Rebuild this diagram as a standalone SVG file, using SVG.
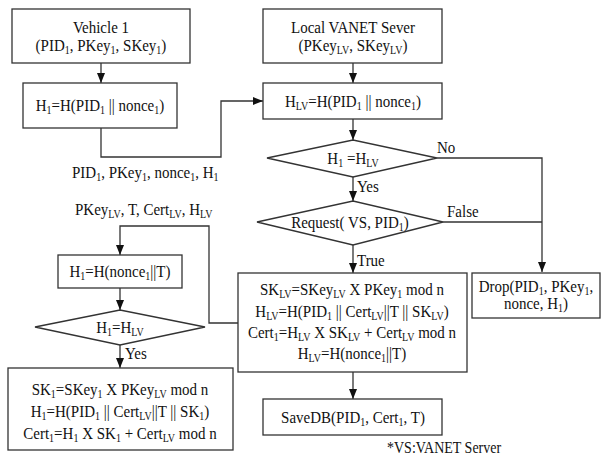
<svg xmlns="http://www.w3.org/2000/svg" width="608" height="461" viewBox="0 0 608 461">
<style>
text{font-family:"Liberation Serif","Times New Roman",serif;font-size:15px;fill:#111}
.c{text-anchor:middle}
.b{font-size:10px;baseline-shift:-3px}
.box{fill:#fff;stroke:#333;stroke-width:1.3}
.ln{fill:none;stroke:#333;stroke-width:1.3}
.ar{marker-end:url(#ah)}
</style>
<defs>
<marker id="ah" markerUnits="userSpaceOnUse" markerWidth="10" markerHeight="10" viewBox="0 0 10 10" refX="10" refY="5" orient="auto">
<path d="M0,1 L10,5 L0,9 Z" fill="#111"/>
</marker>
</defs>
<rect width="608" height="461" fill="#fff"/>
<g id="connectors">
<path class="ln ar" d="M101,63 V83"/>
<path class="ln ar" d="M101,128 V157 H221 V101 H263"/>
<path class="ln ar" d="M353,63 V83"/>
<path class="ln ar" d="M353,119 V140"/>
<path class="ln ar" d="M353,177 V201"/>
<path class="ln ar" d="M437,158 H542 V272"/>
<path class="ln" d="M443,222 H542"/>
<path class="ln ar" d="M353,245 V273"/>
<path class="ln ar" d="M353,372 V399"/>
<path class="ln ar" d="M238,323 H209 V226 H120 V255"/>
<path class="ln ar" d="M120,288 V310"/>
<path class="ln ar" d="M120,345 V368"/>
</g>
<g id="vehicle1">
<rect class="box" x="12" y="9" width="178" height="54"/>
<text class="c" x="101" transform="matrix(1 0 0 1.18 0 33)">Vehicle 1</text>
<text class="c" x="101" transform="matrix(1 0 0 1.18 0 51)">(PID<tspan class="b">1</tspan>, PKey<tspan class="b">1</tspan>, SKey<tspan class="b">1</tspan>)</text>
</g>
<g id="h1hash">
<rect class="box" x="23" y="83" width="154" height="45"/>
<text class="c" x="100" transform="matrix(1 0 0 1.18 0 111)">H<tspan class="b">1</tspan>=H(PID<tspan class="b">1</tspan> || nonce<tspan class="b">1</tspan>)</text>
</g>
<g id="localserver">
<rect class="box" x="263" y="9" width="179" height="54"/>
<text class="c" x="353" transform="matrix(1 0 0 1.18 0 33)">Local VANET Sever</text>
<text class="c" x="353" transform="matrix(1 0 0 1.18 0 51)">(PKey<tspan class="b">LV</tspan>, SKey<tspan class="b">LV</tspan>)</text>
</g>
<g id="hlvhash">
<rect class="box" x="263" y="83" width="179" height="36"/>
<text class="c" x="353" transform="matrix(1 0 0 1.18 0 107)">H<tspan class="b">LV</tspan>=H(PID<tspan class="b">1</tspan> || nonce<tspan class="b">1</tspan>)</text>
</g>
<g id="check1">
<polygon class="box" points="267,158 353,140 437,158 353,177"/>
<text class="c" x="353" transform="matrix(1 0 0 1.18 0 164)">H<tspan class="b">1</tspan> =H<tspan class="b">LV</tspan></text>
</g>
<g id="request">
<polygon class="box" points="257,222 353,201 443,222 353,245"/>
<text class="c" x="350" transform="matrix(1 0 0 1.18 0 228)">Request( VS, PID<tspan class="b">1</tspan>)</text>
</g>
<g id="labels">
<text x="437" transform="matrix(1 0 0 1.18 0 153)">No</text>
<text x="357" transform="matrix(1 0 0 1.18 0 192)">Yes</text>
<text x="447" transform="matrix(1 0 0 1.18 0 217)">False</text>
<text x="357" transform="matrix(1 0 0 1.18 0 266)">True</text>
<text x="72" transform="matrix(1 0 0 1.18 0 178)">PID<tspan class="b">1</tspan>, PKey<tspan class="b">1</tspan>, nonce<tspan class="b">1</tspan>, H<tspan class="b">1</tspan></text>
<text x="75" transform="matrix(1 0 0 1.18 0 215)">PKey<tspan class="b">LV</tspan>, T, Cert<tspan class="b">LV</tspan>, H<tspan class="b">LV</tspan></text>
<text x="125" transform="matrix(1 0 0 1.18 0 359)">Yes</text>
<text x="387" style="font-size:14px" transform="matrix(1 0 0 1.15 0 453)">*VS:VANET Server</text>
</g>
<g id="compute">
<rect class="box" x="238" y="273" width="229" height="99"/>
<text class="c" x="352" transform="matrix(1 0 0 1.18 0 295)">SK<tspan class="b">LV</tspan>=SKey<tspan class="b">LV</tspan> X  PKey<tspan class="b">1</tspan> mod n</text>
<text class="c" x="352" transform="matrix(1 0 0 1.18 0 317)">H<tspan class="b">LV</tspan>=H(PID<tspan class="b">1</tspan> || Cert<tspan class="b">LV</tspan>||T || SK<tspan class="b">LV</tspan>)</text>
<text class="c" x="352" transform="matrix(1 0 0 1.18 0 338)">Cert<tspan class="b">1</tspan>=H<tspan class="b">LV</tspan> X SK<tspan class="b">LV</tspan> + Cert<tspan class="b">LV</tspan> mod n</text>
<text class="c" x="352" transform="matrix(1 0 0 1.18 0 359)">H<tspan class="b">LV</tspan>=H(nonce<tspan class="b">1</tspan>||T)</text>
</g>
<g id="drop">
<rect class="box" x="472" y="273" width="128" height="45"/>
<text class="c" x="536" transform="matrix(1 0 0 1.18 0 292)">Drop(PID<tspan class="b">1</tspan>, PKey<tspan class="b">1</tspan>,</text>
<text class="c" x="536" transform="matrix(1 0 0 1.18 0 309)">nonce, H<tspan class="b">1</tspan>)</text>
</g>
<g id="savedb">
<rect class="box" x="263" y="399" width="179" height="36"/>
<text class="c" x="353" transform="matrix(1 0 0 1.18 0 423)">SaveDB(PID<tspan class="b">1</tspan>, Cert<tspan class="b">1</tspan>, T)</text>
</g>
<g id="h1nonce">
<rect class="box" x="58" y="255" width="124" height="33"/>
<text class="c" x="120" transform="matrix(1 0 0 1.18 0 277)">H<tspan class="b">1</tspan>=H(nonce<tspan class="b">1</tspan>||T)</text>
</g>
<g id="check2">
<polygon class="box" points="35,327 120,310 205,327 120,345"/>
<text class="c" x="120" transform="matrix(1 0 0 1.18 0 333)">H<tspan class="b">1</tspan>=H<tspan class="b">LV</tspan></text>
</g>
<g id="vehiclecompute">
<rect class="box" x="8" y="368" width="225" height="82"/>
<text class="c" x="120" transform="matrix(1 0 0 1.18 0 395)">SK<tspan class="b">1</tspan>=SKey<tspan class="b">1</tspan>  X  PKey<tspan class="b">LV</tspan> mod n</text>
<text class="c" x="120" transform="matrix(1 0 0 1.18 0 417)">H<tspan class="b">1</tspan>=H(PID<tspan class="b">1</tspan> || Cert<tspan class="b">LV</tspan>||T || SK<tspan class="b">1</tspan>)</text>
<text class="c" x="120" transform="matrix(1 0 0 1.18 0 439)">Cert<tspan class="b">1</tspan>=H<tspan class="b">1</tspan>  X  SK<tspan class="b">1</tspan> + Cert<tspan class="b">LV</tspan> mod n</text>
</g>
</svg>
